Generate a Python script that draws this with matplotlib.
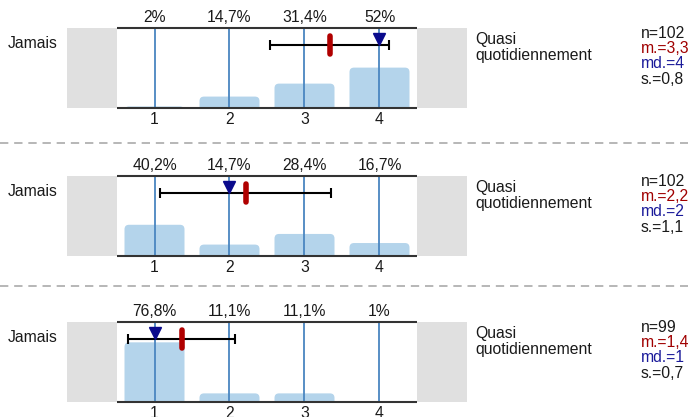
import matplotlib
matplotlib.use("Agg")
import matplotlib.pyplot as plt
import numpy as np
from matplotlib.lines import Line2D
from matplotlib.patches import FancyBboxPatch

plt.rcParams["font.family"] = ["Liberation Sans", "DejaVu Sans"]

# answer categories 1..4, percentages per question
categories = [1, 2, 3, 4]
pct_q1 = [2, 14.7, 31.4, 52]
pct_q2 = [40.2, 14.7, 28.4, 16.7]
pct_q3 = [76.8, 11.1, 11.1, 1]
n_resp = [102, 102, 99]
medians = [4, 2, 1]
left_label = "Jamais"
right_label = "Quasi\nquotidiennement"

W, H = 688, 417


def fx(px):
    return px / W


def fy(py):
    return 1 - py / H


def fmt(v):
    s = f"{v:.1f}".replace(".", ",")
    return s[:-2] if s.endswith(",0") else s


fig = plt.figure(figsize=(W / 100, H / 100), dpi=100)

panel_tops = [28, 176, 322]
panel_h = 80
ax_left, ax_right = 67, 467
ytop = 1.03
bar_col = "#b4d4eb"
vline_col = "#4a86c0"

for pct, top, n, med in zip([pct_q1, pct_q2, pct_q3], panel_tops, n_resp, medians):
    ax = fig.add_axes([fx(ax_left), fy(top + panel_h), fx(ax_right - ax_left), panel_h / H])
    ax.set_xlim(0.5 - 2 / 3, 4.5 + 2 / 3)
    ax.set_ylim(0, ytop)
    ax.axis("off")

    p = np.array(pct) / 100
    x = np.array(categories)
    mean = (p * x).sum()
    sd = np.sqrt((p * x ** 2).sum() - mean ** 2)

    # grey end boxes
    ax.axvspan(0.5 - 2 / 3, 0.5, color="#e0e0e0", lw=0)
    ax.axvspan(4.5, 4.5 + 2 / 3, color="#e0e0e0", lw=0)

    # bars with rounded tops
    for xi, h in zip(x, p):
        bar = FancyBboxPatch((xi - 0.4, -0.1), 0.8, h + 0.1,
                             boxstyle="round,pad=0,rounding_size=0.06",
                             mutation_aspect=75 / (panel_h / ytop),
                             fc=bar_col, ec="none", zorder=2)
        ax.add_patch(bar)

    ax.vlines(x, 0, ytop, color=vline_col, lw=1.3, zorder=3)
    ax.hlines([0, ytop], 0.5, 4.5, color="#333333", lw=1.5, zorder=4, clip_on=False)

    # mean +- sd, mean and median markers
    ey = ytop - 17 / (panel_h / ytop)
    ax.errorbar(mean, ey, xerr=sd, color="black", lw=1.5, capsize=3.6, capthick=1.5, zorder=5)
    ax.plot(med, ey + 6 / (panel_h / ytop), marker="v", color="#0a0a8c", ms=8.5, zorder=6, clip_on=False)
    ax.plot([mean, mean], [ey - 0.115, ey + 0.115], color="#b00000", lw=4,
            solid_capstyle="round", zorder=7)

    for xi, v in zip(x, pct):
        ax.annotate(f"{fmt(v)}%", xy=(xi, 1), xycoords=("data", "axes fraction"),
                    xytext=(0, 10), textcoords="offset pixels",
                    ha="center", va="center", fontsize=11.3, color="#1a1a1a")
        ax.annotate(str(xi), xy=(xi, 0), xycoords=("data", "axes fraction"),
                    xytext=(0, -12), textcoords="offset pixels",
                    ha="center", va="center", fontsize=11.3, color="#1a1a1a")

    fig.text(fx(8), fy(top + 15), left_label, ha="left", va="center", fontsize=11.3, color="#1a1a1a")
    fig.text(fx(475), fy(top + 4), right_label, ha="left", va="top", fontsize=11.3,
             linespacing=1.08, color="#1a1a1a")

    stats = [(f"n={n}", "#1a1a1a"), (f"m.={fmt(mean)}", "#a00000"),
             (f"md.={med}", "#1a1a9a"), (f"s.={fmt(sd)}", "#1a1a1a")]
    for k, (s, c) in enumerate(stats):
        fig.text(fx(641), fy(top + 5 + 15.5 * k), s, ha="left", va="center", fontsize=11.3, color=c)

for sep in [143, 286]:
    fig.add_artist(Line2D([0, 1], [fy(sep)] * 2, transform=fig.transFigure,
                          color="#aaaaaa", lw=1.2, ls=(0, (5, 3.5))))

fig.savefig("out.png", dpi=100)
